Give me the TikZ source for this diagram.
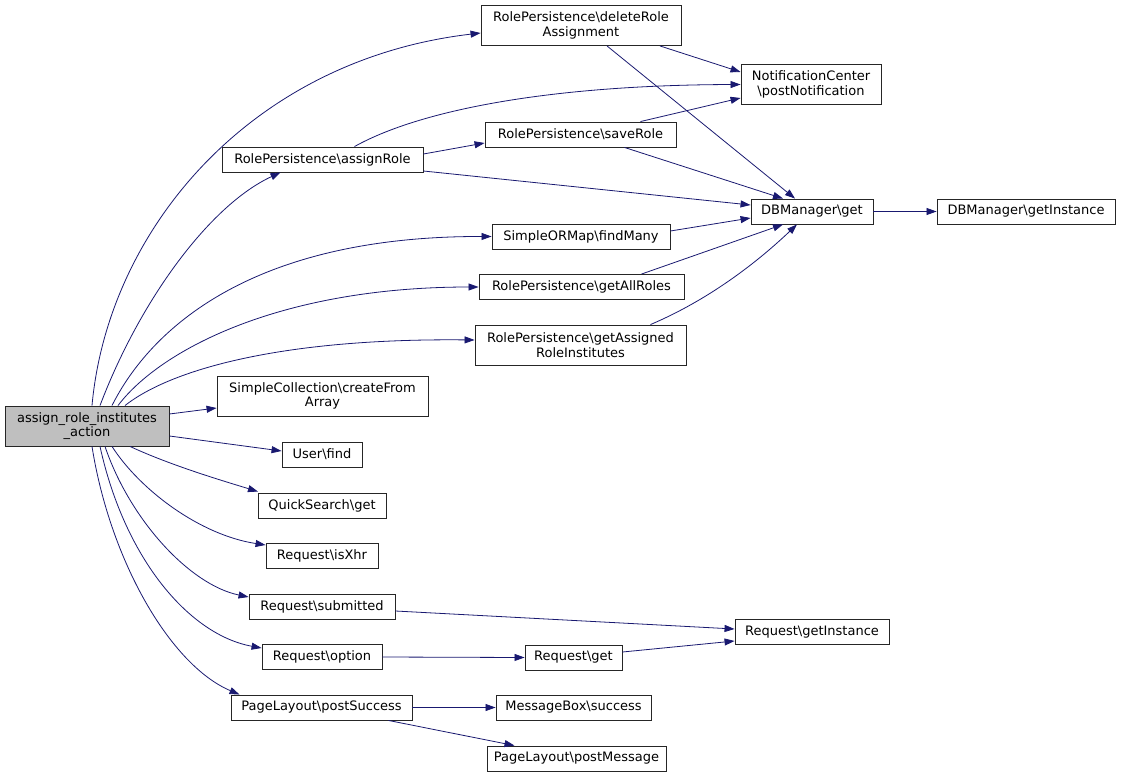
\documentclass[tikz,border=0pt]{standalone}
\usepackage{fontspec}
\setmainfont{DejaVu Sans}
\usetikzlibrary{arrows.meta}
\newcommand{\bsl}{\textbackslash}
\definecolor{edgeblue}{HTML}{191970}
\definecolor{boxgray}{HTML}{BFBFBF}
\begin{document}
\begin{tikzpicture}[x=1pt,y=-1pt,
  fn/.style={draw=black!85, line width=0.9pt, fill=white, inner sep=0pt, align=center,
    font=\fontsize{13}{14.5}\selectfont, minimum height=25pt},
  two/.style={minimum height=40pt},
  call/.style={draw=edgeblue, line width=0.8pt, -{Triangle[length=10pt,width=7pt]}}]
\useasboundingbox (0,0) rectangle (1121,778);
% nodes
\node[fn,two,fill=boxgray,minimum width=164pt] (main) at (87,426) {assign\_role\_institutes\\\_action};
\node[fn,two,minimum width=200pt] (del) at (581,25.5) {RolePersistence\bsl deleteRole\\Assignment};
\node[fn,two,minimum width=140pt] (notif) at (811,84.5) {NotificationCenter\\\bsl postNotification};
\node[fn,minimum width=191pt] (save) at (580.5,134.5) {RolePersistence\bsl saveRole};
\node[fn,minimum width=201pt] (assign) at (322.5,159.5) {RolePersistence\bsl assignRole};
\node[fn,minimum width=122pt] (dbget) at (812,211.5) {DBManager\bsl get};
\node[fn,minimum width=178pt] (dbinst) at (1026,211.5) {DBManager\bsl getInstance};
\node[fn,minimum width=178pt] (findmany) at (581,236.5) {SimpleORMap\bsl findMany};
\node[fn,minimum width=205pt] (allroles) at (581.5,287) {RolePersistence\bsl getAllRoles};
\node[fn,two,minimum width=211pt] (assigned) at (580.5,345) {RolePersistence\bsl getAssigned\\RoleInstitutes};
\node[fn,two,minimum width=211pt] (coll) at (322.5,396) {SimpleCollection\bsl createFrom\\Array};
\node[fn,minimum width=80pt] (ufind) at (322,454.5) {User\bsl find};
\node[fn,minimum width=128pt] (qs) at (322,505.5) {QuickSearch\bsl get};
\node[fn,minimum width=112pt] (xhr) at (322,556) {Request\bsl isXhr};
\node[fn,minimum width=146pt] (subm) at (322,606.5) {Request\bsl submitted};
\node[fn,minimum width=120pt] (opt) at (322,657) {Request\bsl option};
\node[fn,minimum width=181pt] (psucc) at (321.5,707.5) {PageLayout\bsl postSuccess};
\node[fn,minimum width=154pt] (rinst) at (812,632) {Request\bsl getInstance};
\node[fn,minimum width=97pt] (rget) at (573.5,657.5) {Request\bsl get};
\node[fn,minimum width=155pt] (mbox) at (573.5,707.5) {MessageBox\bsl success};
\node[fn,minimum width=179pt] (pmsg) at (576.5,758.5) {PageLayout\bsl postMessage};
% edges from main
\draw[call] ([xshift=5pt]main.north) .. controls (108,230) and (250,60) .. ([yshift=-7.5pt]del.west);
\draw[call] ([xshift=13pt]main.north) .. controls (140,300) and (210,205) .. ([xshift=-42pt]assign.south);
\draw[call] ([xshift=25pt]main.north) .. controls (150,330) and (250,236) .. (findmany.west);
\draw[call] ([xshift=31pt]main.north) .. controls (160,350) and (280,287) .. (allroles.west);
\draw[call] ([xshift=38pt]main.north) .. controls (170,370) and (280,338) .. ([yshift=5pt]assigned.west);
\draw[call] ([yshift=12pt]main.east) -- ([yshift=-12pt]coll.west);
\draw[call] ([yshift=-10pt]main.east) -- ([yshift=3.5pt]ufind.west);
\draw[call] ([xshift=43pt]main.south) .. controls (170,465) and (220,480) .. ([xshift=-64pt,yshift=1pt]qs.north);
\draw[call] ([xshift=25pt]main.south) .. controls (140,490) and (200,535) .. ([yshift=11pt]xhr.west);
\draw[call] ([xshift=18pt]main.south) .. controls (130,520) and (190,585) .. ([yshift=9.5pt]subm.west);
\draw[call] ([xshift=13pt]main.south) .. controls (125,560) and (190,635) .. ([yshift=9pt]opt.west);
\draw[call] ([xshift=5pt]main.south) .. controls (110,560) and (170,665) .. ([xshift=-82pt]psucc.north);
% other edges
\draw[call] ([xshift=79pt]del.south) -- ([yshift=12.5pt]notif.west);
\draw[call] ([xshift=26pt]del.south) -- ([xshift=-17pt]dbget.north);
\draw[call] ([xshift=32pt]assign.north) .. controls (420,110) and (550,85) .. (notif.west);
\draw[call] ([yshift=5.5pt]assign.east) -- ([yshift=-8.5pt]save.west);
\draw[call] ([yshift=-11.5pt]assign.east) -- ([yshift=6.5pt]dbget.west);
\draw[call] ([xshift=60pt]save.north) -- ([yshift=-13.5pt]notif.west);
\draw[call] ([xshift=44pt]save.south) -- ([xshift=-29pt]dbget.north);
\draw[call] ([yshift=5.5pt]findmany.east) -- ([yshift=-6.5pt]dbget.west);
\draw[call] ([xshift=60pt]allroles.north) -- ([xshift=-29pt]dbget.south);
\draw[call] ([xshift=70pt]assigned.north) .. controls (720,295) and (770,250) .. ([xshift=-15pt]dbget.south);
\draw[call] (dbget.east) -- (dbinst.west);
\draw[call] ([yshift=-4.5pt]subm.east) -- ([yshift=3pt]rinst.west);
\draw[call] (opt.east) -- (rget.west);
\draw[call] ([yshift=5.5pt]rget.east) -- ([yshift=-9pt]rinst.west);
\draw[call] (psucc.east) -- (mbox.west);
\draw[call] ([xshift=67pt]psucc.south) -- ([xshift=-62pt]pmsg.north);
\end{tikzpicture}
\end{document}
